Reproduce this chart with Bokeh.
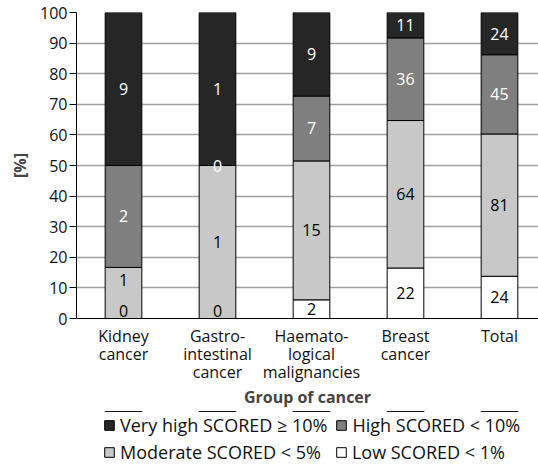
from bokeh.plotting import figure
from bokeh.layouts import column
from bokeh.models import ColumnDataSource, Legend, LegendItem, Range1d, FixedTicker
from bokeh.embed import file_html
from bokeh.resources import INLINE
from bokeh.core.properties import value

# ---- data (percent of each group; counts shown as labels)
categories = ["Kidney\ncancer", "Gastro-\nintestinal\ncancer",
              "Haemato-\nlogical\nmalignancies", "Breast\ncancer", "Total"]
series_names = ["Low SCORED < 1%", "Moderate SCORED < 5%",
                "High SCORED < 10%", "Very high SCORED \u2265 10%"]
low_pct = [0.0, 0.0, 6.1, 16.5, 13.8]
moderate_pct = [16.7, 50.0, 45.4, 48.2, 46.5]
high_pct = [33.3, 0.0, 21.2, 27.0, 25.9]
veryhigh_pct = [50.0, 50.0, 27.3, 8.3, 13.8]
low_n = [0, 0, 2, 22, 24]
moderate_n = [1, 1, 15, 64, 81]
high_n = [2, 0, 7, 36, 45]
veryhigh_n = [9, 1, 9, 11, 24]
y_ticks = [0, 10, 20, 30, 40, 50, 60, 70, 80, 90, 100]

FONT = "Open Sans"
fills = ["#ffffff", "#c8c8c8", "#7f7f7f", "#262626"]
text_cols = ["#000000", "#000000", "#ffffff", "#ffffff"]

pcts = [low_pct, moderate_pct, high_pct, veryhigh_pct]
counts = [low_n, moderate_n, high_n, veryhigh_n]
keys = ["low", "moderate", "high", "veryhigh"]
xs = list(range(len(categories)))

data = {"x": xs}
for k, arr in zip(keys, pcts):
    data[k] = arr
src = ColumnDataSource(data)

p = figure(frame_width=462, frame_height=306, output_backend="svg", toolbar_location=None,
           x_range=Range1d(-0.5, 4.415), y_range=Range1d(0, 100),
           min_border_left=76, min_border_right=0, min_border_top=12,
           min_border_bottom=0)
p.outline_line_color = None
p.background_fill_color = "white"

renderers = p.vbar_stack(keys, x="x", width=0.39, source=src,
                         fill_color=fills, line_color="black", line_width=1)

# value labels (segment centres, nudged up to avoid overlap)
lx, ly, lt, lc = [], [], [], []
for i in xs:
    bottom = 0.0
    prev = None
    for s in range(4):
        h = pcts[s][i]
        y = bottom + h / 2.0
        if h == 0 and bottom == 0:
            y = 2.5
        if prev is not None and y < prev + 10 and h > 0:
            y = max(y, prev + 10)
        lx.append(i)
        ly.append(y)
        lt.append(str(counts[s][i]))
        lc.append(text_cols[s])
        prev = y
        bottom += h
lsrc = ColumnDataSource(dict(x=lx, y=ly, t=lt, c=lc))
p.text(x="x", y="y", text="t", source=lsrc, text_color="c",
       text_align="center", text_baseline="middle",
       text_font=value(FONT), text_font_size="16px")

# axes
p.xaxis.ticker = FixedTicker(ticks=xs)
p.xaxis.major_label_overrides = {i: c for i, c in zip(xs, categories)}
p.xaxis.major_tick_line_color = None
p.xaxis.minor_tick_line_color = None
p.xaxis.axis_line_color = "black"
p.xaxis.major_label_text_font = FONT
p.xaxis.major_label_text_font_size = "16px"
p.xaxis.major_label_text_color = "#111111"
p.xaxis.major_label_text_line_height = 0.83
p.xaxis.major_label_standoff = 0
p.xaxis.axis_label = "Group of cancer"
p.xaxis.axis_label_text_font = FONT
p.xaxis.axis_label_text_font_size = "16px"
p.xaxis.axis_label_text_font_style = "bold"
p.xaxis.axis_label_standoff = 0

p.yaxis.ticker = FixedTicker(ticks=y_ticks)
p.yaxis.major_tick_in = 0
p.yaxis.major_tick_out = 7
p.yaxis.minor_tick_line_color = None
p.yaxis.axis_line_color = "black"
p.yaxis.major_tick_line_color = "black"
p.yaxis.major_label_text_font = FONT
p.yaxis.major_label_text_font_size = "16px"
p.yaxis.major_label_text_color = "#111111"
p.yaxis.major_label_standoff = 2
p.yaxis.axis_label = "[%]"
p.yaxis.axis_label_text_font = FONT
p.yaxis.axis_label_text_font_size = "16px"
p.yaxis.axis_label_text_font_style = "bold"
p.yaxis.axis_label_standoff = 6

p.xgrid.grid_line_color = None
p.ygrid.grid_line_color = "#a0a0a0"
p.ygrid.grid_line_width = 1.5
p.ygrid.ticker = FixedTicker(ticks=y_ticks)

# ---- legend strip below the chart (proxy bars lie outside its visible range)
lg = figure(frame_width=462, frame_height=58, output_backend="svg", toolbar_location=None,
            x_range=Range1d(-0.5, 4.415), y_range=Range1d(-20, -10),
            min_border_left=76, min_border_right=0, min_border_top=0,
            min_border_bottom=0)
lg.axis.visible = False
lg.grid.visible = False
lg.outline_line_color = None
proxies = [lg.vbar(x="x", top=keys[s], width=0.39, source=src,
                   fill_color=fills[s], line_color="black", line_width=1)
           for s in range(4)]

def make_legend(idx, spacing, loc):
    items = [LegendItem(label=series_names[s], renderers=[proxies[s]]) for s in idx]
    return Legend(items=items, orientation="horizontal",
                  location=loc, border_line_color=None,
                  background_fill_alpha=0, padding=0, margin=0, spacing=spacing,
                  glyph_width=12, glyph_height=12, label_standoff=5,
                  label_text_font=FONT, label_text_font_size="18px",
                  label_text_color="#111111", label_height=21)

lg.add_layout(make_legend([3, 2], 8, (27, 32)), "center")
lg.add_layout(make_legend([1, 0], 14, (27, 5)), "center")

layout = column(p, lg, spacing=0)
open("out.html", "w").write(file_html(layout, INLINE))
